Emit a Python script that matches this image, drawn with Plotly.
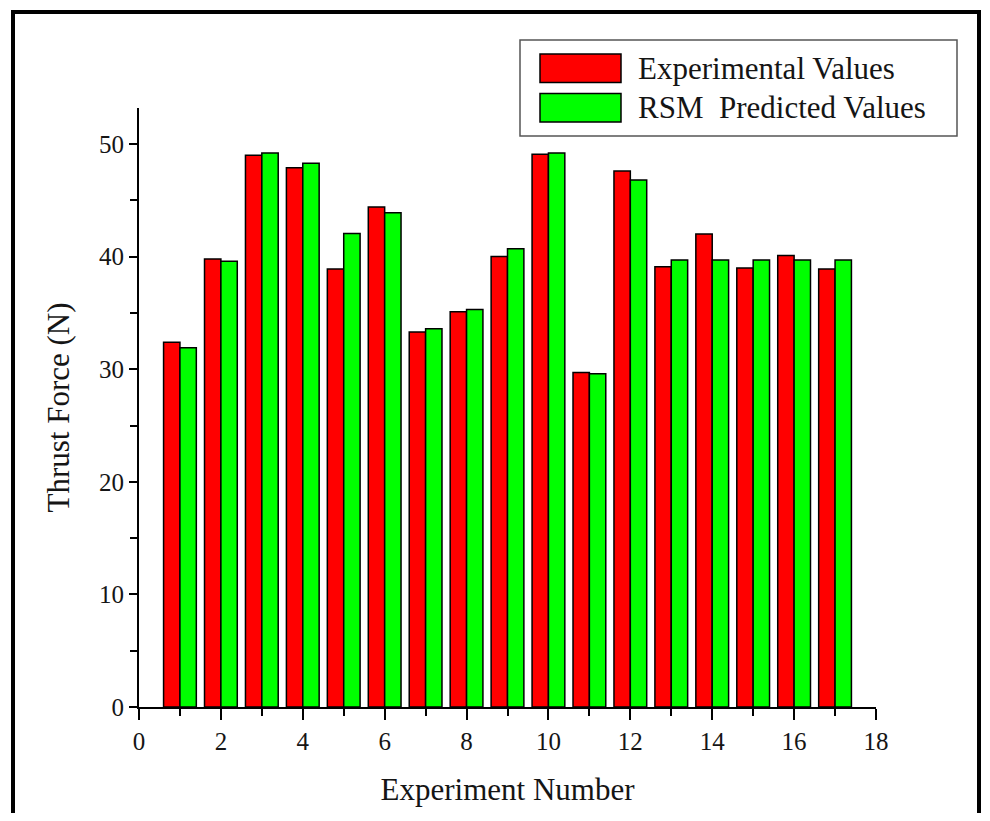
import plotly.graph_objects as go

experiments = list(range(1, 18))
experimental_values = [32.4, 39.8, 49.0, 47.9, 38.9, 44.4, 33.3, 35.1, 40.0,
                       49.1, 29.7, 47.6, 39.1, 42.0, 39.0, 40.1, 38.9]
rsm_predicted_values = [31.9, 39.6, 49.2, 48.3, 42.05, 43.9, 33.6, 35.3, 40.7,
                        49.2, 29.6, 46.8, 39.7, 39.7, 39.7, 39.7, 39.7]
series_names = ["Experimental Values", "RSM  Predicted Values"]
series_colors = ["#FF0000", "#00FF00"]
x_title = "Experiment Number"
y_title = "Thrust Force (N)"

OFF = 8  # page body margin
W, H = 990 - 2 * OFF, 821 - 2 * OFF
L, T = 139 - OFF, 108 - OFF
PW, PH = 737, 599
R = W - L - PW
B = H - T - PH
FONT = "Liberation Serif, Times New Roman, serif"
TXT = "#151515"


def px(xp):
    # page pixel x -> paper coordinate
    return (xp - OFF - L) / PW


def py(yp):
    # page pixel y -> paper coordinate
    return (T + PH - (yp - OFF)) / PH


fig = go.Figure()
for name, vals, col in zip(series_names, [experimental_values, rsm_predicted_values], series_colors):
    fig.add_trace(go.Bar(
        x=experiments, y=vals, name=name,
        marker=dict(color=col, line=dict(color="black", width=1.5)),
        showlegend=False,
    ))

shapes = [
    # outer frame
    dict(type="rect", xref="paper", yref="paper",
         x0=px(13), x1=px(979), y0=py(12), y1=py(840),
         line=dict(color="black", width=4), fillcolor="rgba(0,0,0,0)", layer="above"),
    # legend box
    dict(type="rect", xref="paper", yref="paper",
         x0=px(520), x1=px(957), y0=py(40), y1=py(136),
         line=dict(color="#555555", width=1.5), fillcolor="white", layer="above"),
]
annotations = []
for i, (name, col) in enumerate(zip(series_names, series_colors)):
    top = 54 + i * 39.5
    shapes.append(dict(type="rect", xref="paper", yref="paper",
                       x0=px(540), x1=px(621), y0=py(top), y1=py(top + 28.5),
                       line=dict(color="black", width=1.5), fillcolor=col, layer="above"))
    annotations.append(dict(xref="paper", yref="paper", x=px(636), y=py(top + 14),
                            text=name, showarrow=False, xanchor="left", yanchor="middle",
                            font=dict(family=FONT, size=31, color=TXT)))

fig.update_layout(
    width=W, height=H,
    margin=dict(l=L, r=R, t=T, b=B, pad=0),
    paper_bgcolor="white", plot_bgcolor="white",
    barmode="group", bargap=0.2, bargroupgap=0,
    shapes=shapes, annotations=annotations,
    font=dict(family=FONT, color=TXT),
    xaxis=dict(
        range=[0, 18], tickmode="linear", tick0=0, dtick=2,
        ticks="outside", ticklen=11, tickwidth=2, tickcolor="black",
        showline=True, linecolor="black", linewidth=2, mirror=False,
        showgrid=False, zeroline=False,
        tickfont=dict(family=FONT, size=25, color=TXT),
        title=dict(text=x_title, font=dict(family=FONT, size=31, color=TXT), standoff=24),
        minor=dict(dtick=1, tick0=0, ticks="outside", ticklen=7, tickwidth=2, tickcolor="black"),
    ),
    yaxis=dict(
        range=[0, 53.2], tickmode="linear", tick0=0, dtick=10,
        ticks="outside", ticklen=8, tickwidth=2, tickcolor="black",
        showline=True, linecolor="black", linewidth=2, mirror=False,
        showgrid=False, zeroline=False,
        tickfont=dict(family=FONT, size=25, color=TXT),
        title=dict(text=y_title, font=dict(family=FONT, size=31, color=TXT), standoff=20),
        minor=dict(dtick=5, tick0=0, ticks="outside", ticklen=7, tickwidth=2, tickcolor="black"),
    ),
)

fig.write_html("out.html")
